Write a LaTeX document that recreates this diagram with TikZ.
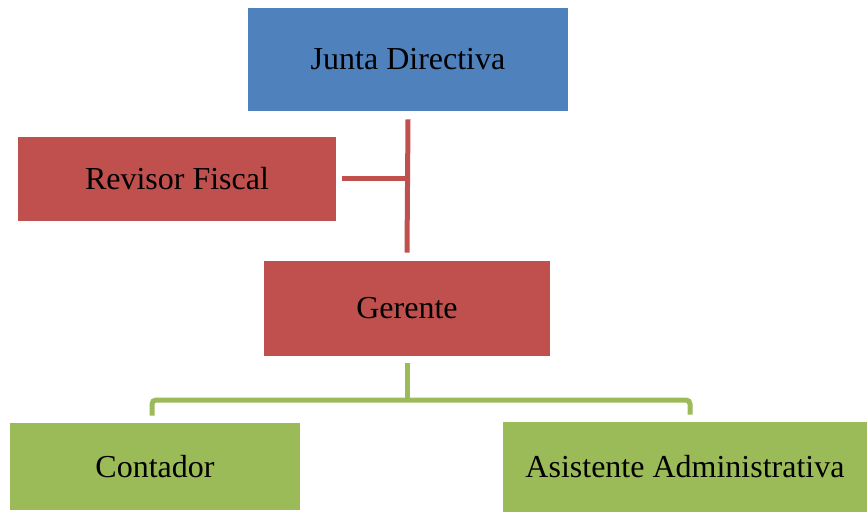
\documentclass[tikz,border=0pt]{standalone}
\usepackage{fontspec}
\setmainfont{Liberation Serif}
\definecolor{azul}{HTML}{4F81BD}
\definecolor{rojo}{HTML}{C0504D}
\definecolor{verde}{HTML}{9BBB59}
\tikzset{
  caja/.style={inner sep=0pt,font=\fontsize{16}{19}\selectfont},
  linea/.style={line width=2.5pt}
}
\begin{document}
\begin{tikzpicture}[x=0.5pt,y=-0.5pt]
\useasboundingbox (0,0) rectangle (867,513);
\node[caja,fill=azul,minimum width=160pt,minimum height=51.5pt] (jd) at (408,59.5) {Junta Directiva};
\node[caja,fill=rojo,minimum width=159pt,minimum height=42pt] (rf) at (177,179) {Revisor Fiscal};
\node[caja,fill=rojo,minimum width=143pt,minimum height=47.5pt] (ger) at (407,308.5) {Gerente};
\node[caja,fill=verde,minimum width=145pt,minimum height=43.5pt] (cont) at (155,466.5) {Contador};
\node[caja,fill=verde,minimum width=182pt,minimum height=45pt] (asis) at (685,467) {Asistente Administrativa};
\coordinate (bus) at (407,400);
\draw[linea,rojo] ([yshift=-4pt]jd.south) -- ([yshift=4pt]ger.north);
\draw[linea,rojo] ([xshift=3pt]rf.east) -- (rf.east -| jd.south);
\draw[linea,verde] ([yshift=-3.5pt]ger.south) -- (bus);
\draw[linea,verde,rounded corners=2pt] ([xshift=-1.5pt,yshift=3.5pt]cont.north) |- (bus) -| ([xshift=2.5pt,yshift=3.5pt]asis.north);
\end{tikzpicture}
\end{document}
